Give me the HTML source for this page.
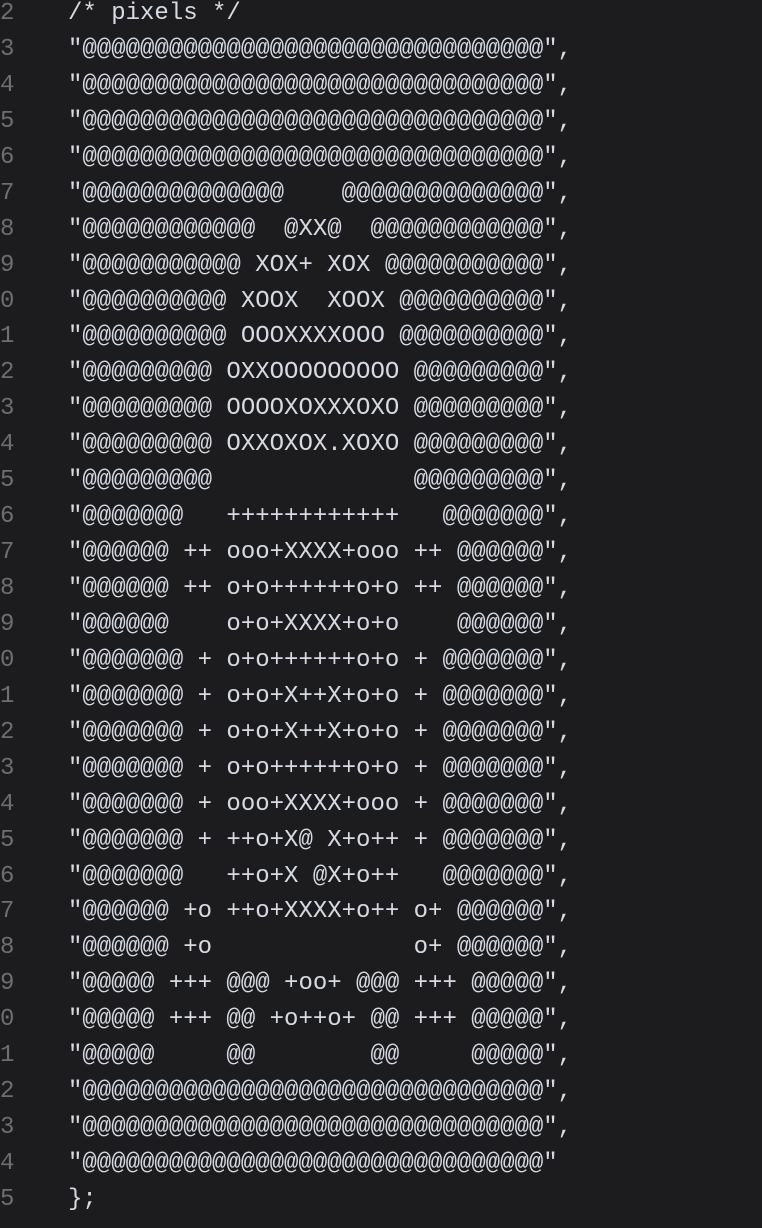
<!DOCTYPE html>
<html><head><meta charset="utf-8"><style>
html,body{margin:0;padding:0;background:#1c1c1e;width:762px;height:1228px;overflow:hidden;}
.wrap{position:absolute;top:-4px;left:0;font-family:"Liberation Mono",monospace;font-size:24px;line-height:35.94px;white-space:pre;}
.ln{position:absolute;left:0px;top:0;color:#6c6e72;text-align:left;}
.code{position:absolute;left:68px;top:0;color:#d6dae2;}
</style></head><body>
<div class="wrap">
<div class="ln">2
3
4
5
6
7
8
9
0
1
2
3
4
5
6
7
8
9
0
1
2
3
4
5
6
7
8
9
0
1
2
3
4
5</div>
<div class="code">/* pixels */
"@@@@@@@@@@@@@@@@@@@@@@@@@@@@@@@@",
"@@@@@@@@@@@@@@@@@@@@@@@@@@@@@@@@",
"@@@@@@@@@@@@@@@@@@@@@@@@@@@@@@@@",
"@@@@@@@@@@@@@@@@@@@@@@@@@@@@@@@@",
"@@@@@@@@@@@@@@    @@@@@@@@@@@@@@",
"@@@@@@@@@@@@  @XX@  @@@@@@@@@@@@",
"@@@@@@@@@@@ XOX+ XOX @@@@@@@@@@@",
"@@@@@@@@@@ XOOX  XOOX @@@@@@@@@@",
"@@@@@@@@@@ OOOXXXXOOO @@@@@@@@@@",
"@@@@@@@@@ OXXOOOOOOOOO @@@@@@@@@",
"@@@@@@@@@ OOOOXOXXXOXO @@@@@@@@@",
"@@@@@@@@@ OXXOXOX.XOXO @@@@@@@@@",
"@@@@@@@@@              @@@@@@@@@",
"@@@@@@@   ++++++++++++   @@@@@@@",
"@@@@@@ ++ ooo+XXXX+ooo ++ @@@@@@",
"@@@@@@ ++ o+o++++++o+o ++ @@@@@@",
"@@@@@@    o+o+XXXX+o+o    @@@@@@",
"@@@@@@@ + o+o++++++o+o + @@@@@@@",
"@@@@@@@ + o+o+X++X+o+o + @@@@@@@",
"@@@@@@@ + o+o+X++X+o+o + @@@@@@@",
"@@@@@@@ + o+o++++++o+o + @@@@@@@",
"@@@@@@@ + ooo+XXXX+ooo + @@@@@@@",
"@@@@@@@ + ++o+X@ X+o++ + @@@@@@@",
"@@@@@@@   ++o+X @X+o++   @@@@@@@",
"@@@@@@ +o ++o+XXXX+o++ o+ @@@@@@",
"@@@@@@ +o              o+ @@@@@@",
"@@@@@ +++ @@@ +oo+ @@@ +++ @@@@@",
"@@@@@ +++ @@ +o++o+ @@ +++ @@@@@",
"@@@@@     @@        @@     @@@@@",
"@@@@@@@@@@@@@@@@@@@@@@@@@@@@@@@@",
"@@@@@@@@@@@@@@@@@@@@@@@@@@@@@@@@",
"@@@@@@@@@@@@@@@@@@@@@@@@@@@@@@@@"
};</div>
</div>
</body></html>
